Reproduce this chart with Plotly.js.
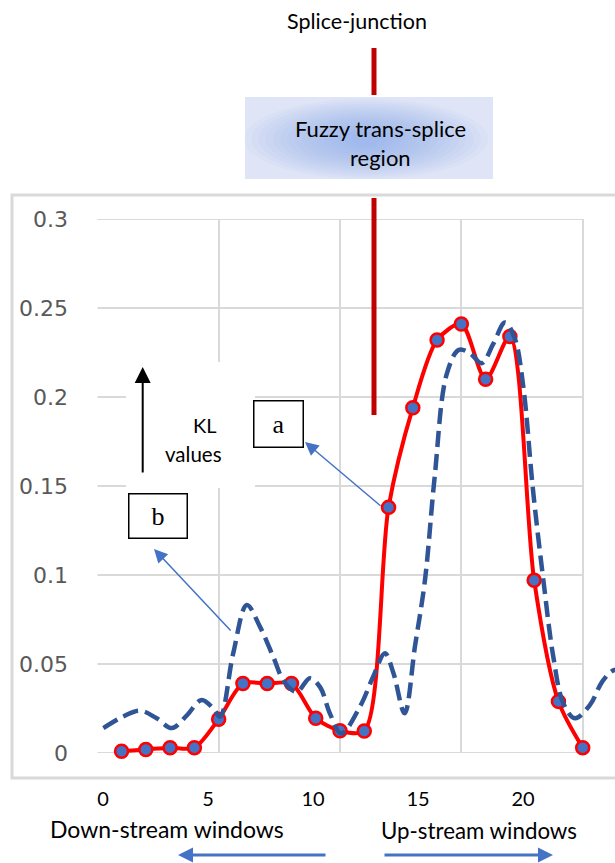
<!DOCTYPE html>
<html><head><meta charset="utf-8">
<script src="https://cdn.plot.ly/plotly-3.0.1.min.js"></script>
<style>html,body{margin:0;padding:0;background:#fff;}#chart{width:615px;height:863px;}</style>
</head><body><div id="chart"></div>
<script>
// ---- data ----
const windows = [1,2,3,4,5,6,7,8,9,10,11,12,13,14,15,16,17,18,19,20];
const klSeriesA = [0.001,0.002,0.003,0.003,0.019,0.039,0.039,0.039,0.0195,0.0125,0.0124,0.138,0.194,0.232,0.241,0.210,0.234,0.097,0.029,0.003];
const curveBX = [0.25,1.07,1.76,2.45,3.07,3.68,4.3,4.78,5.06,5.6,6.16,6.7,7.25,7.7,8.22,8.76,9.18,9.59,10.05,10.82,11.37,11.85,12.2,12.66,13.09,13.5,13.9,14.4,14.9,15.36,15.84,16.32,16.8,17.2,17.55,17.95,18.38,18.79,19.2,19.68,20.3,20.8,21.3,21.7];
const curveBY = [0.014,0.0205,0.0238,0.0195,0.014,0.021,0.0298,0.025,0.0204,0.056,0.0831,0.071,0.054,0.040,0.0344,0.042,0.037,0.022,0.011,0.026,0.043,0.056,0.045,0.0223,0.06,0.097,0.155,0.213,0.2265,0.2245,0.219,0.230,0.2418,0.233,0.206,0.148,0.097,0.054,0.028,0.0195,0.027,0.040,0.0466,0.045];
const yTicks = [0,0.05,0.1,0.15,0.2,0.25,0.3];
const yTickText = ['0','0.05','0.1','0.15','0.2','0.25','0.3'];
const xGrid = [0,5,10,15,20];
const xTickText = ['0','5','10','15','20'];

// ---- helpers (pixel -> paper) ----
const W = 615, H = 863;
const px = x => x / W;
const py = y => 1 - y / H;
const FONT = 'Lato, "Open Sans", sans-serif';

const traces = [
  {x: windows, y: klSeriesA, mode: 'lines+markers', type: 'scatter',
   line: {color: '#FF0000', width: 4, shape: 'spline', smoothing: 0.8},
   marker: {size: 13, color: '#4472C4', line: {color: '#FF0000', width: 2.5}},
   cliponaxis: false, hoverinfo: 'skip'},
  {x: curveBX, y: curveBY, mode: 'lines', type: 'scatter',
   line: {color: '#2F5597', width: 4.5, dash: '16px,7px', shape: 'spline', smoothing: 1},
   hoverinfo: 'skip'},
  {x: [0, 20], y: [0.1, 0.1], xaxis: 'x2', yaxis: 'y', mode: 'markers', type: 'scatter',
   marker: {opacity: 0}, hoverinfo: 'skip'}
];

const shapes = [];
// outer frame
shapes.push({type: 'rect', xref: 'paper', yref: 'paper', x0: px(12), x1: px(630), y0: py(778), y1: py(195),
  line: {color: '#d9d9d9', width: 3}, fillcolor: 'rgba(0,0,0,0)', layer: 'below'});
// horizontal gridlines (stop at x = 20)
yTicks.forEach(v => shapes.push({type: 'line', xref: 'x', yref: 'y', x0: 0, x1: 20, y0: v, y1: v,
  line: {color: '#d9d9d9', width: 2}, layer: 'below'}));
// white label area behind the KL arrow
shapes.push({type: 'rect', xref: 'paper', yref: 'paper', x0: px(126), x1: px(255), y0: py(488), y1: py(362),
  line: {width: 0}, fillcolor: '#ffffff', layer: 'above'});
// splice-junction line
shapes.push({type: 'line', xref: 'paper', yref: 'paper', x0: px(374), x1: px(374), y0: py(48), y1: py(95),
  line: {color: '#C00000', width: 5}});
shapes.push({type: 'line', xref: 'paper', yref: 'paper', x0: px(374), x1: px(374), y0: py(198), y1: py(415),
  line: {color: '#C00000', width: 5}});
// fuzzy region box with soft centre
shapes.push({type: 'rect', xref: 'paper', yref: 'paper', x0: px(245), x1: px(493), y0: py(179), y1: py(97),
  line: {width: 0}, fillcolor: '#dfe5f6'});
for (let i = 0; i < 16; i++) {
  const rx = 122 - i * 7.2, ry = 40 - i * 2.2, cx = 366, cy = 139;
  shapes.push({type: 'circle', xref: 'paper', yref: 'paper', x0: px(cx - rx), x1: px(cx + rx), y0: py(cy + ry), y1: py(cy - ry),
    line: {width: 0}, fillcolor: 'rgba(130,155,228,0.055)'});
}

const ann = (text, x, y, size, extra) => Object.assign({text, x: px(x), y: py(y), xref: 'paper', yref: 'paper',
  showarrow: false, xanchor: 'center', yanchor: 'middle', font: {family: FONT, size, color: '#000'}}, extra || {});
const arrow = (hx, hy, ax, ay, color, width, size) => ({text: '', x: px(hx), y: py(hy), xref: 'paper', yref: 'paper',
  showarrow: true, ax, ay, arrowcolor: color, arrowwidth: width, arrowhead: 2, arrowsize: size, standoff: 0, startstandoff: 0});

const annotations = [
  ann('Splice-junction', 357, 21, 21.5),
  ann('Fuzzy trans-splice', 380, 128, 22),
  ann('region', 380, 157, 22),
  ann('KL', 204.5, 425, 20),
  ann('values', 193.5, 454, 20.5),
  ann('Down-stream windows', 167, 829, 23),
  ann('Up-stream windows', 479, 830, 22.3),
  ann('a', 278.5, 423.5, 26, {font: {family: '"Liberation Serif", serif', size: 26, color: '#000'}, bgcolor: '#fff',
     bordercolor: '#000', borderwidth: 1.5, borderpad: 0, width: 48, height: 45}),
  ann('b', 157.5, 516, 26, {font: {family: '"Liberation Serif", serif', size: 26, color: '#000'}, bgcolor: '#fff',
     bordercolor: '#000', borderwidth: 1.5, borderpad: 0, width: 57, height: 43}),
  arrow(142.7, 367, 0, 107, '#000000', 2, 1.6),
  arrow(305, 442, 77, 65, '#4472C4', 1.5, 1.8),
  arrow(154, 549, 78, 83, '#4472C4', 1.5, 1.8),
  arrow(178, 855, 149, 0, '#4472C4', 3, 1),
  arrow(553, 855, -170, 0, '#4472C4', 3, 1)
];

const layout = {
  width: W, height: H, margin: {l: 0, r: 0, t: 0, b: 0},
  paper_bgcolor: '#ffffff', plot_bgcolor: 'rgba(0,0,0,0)', showlegend: false,
  xaxis: {domain: [px(97.3), 1], range: [0, (615 - 97.3) / 24.27], tickvals: xGrid, showticklabels: false,
    showgrid: true, gridcolor: '#d9d9d9', gridwidth: 2, zeroline: false, showline: false, ticks: '', fixedrange: true},
  yaxis: {domain: [py(753), py(219)], range: [0, 0.3], tickvals: yTicks, ticktext: yTickText,
    showgrid: false, zeroline: false, showline: false, ticks: 'outside', ticklen: 24, tickcolor: 'rgba(0,0,0,0)',
    tickfont: {family: '"DejaVu Sans", sans-serif', size: 22, color: '#595959'}, fixedrange: true},
  xaxis2: {domain: [px(103), px(523)], range: [0, 20], anchor: 'free', position: py(785), side: 'bottom',
    tickvals: xGrid, ticktext: xTickText, showgrid: false, zeroline: false, showline: false, ticks: '',
    tickfont: {family: FONT, size: 20, color: '#000'}, fixedrange: true},
  shapes, annotations
};

Plotly.newPlot('chart', traces, layout, {staticPlot: true, displayModeBar: false});
</script>
</body></html>
